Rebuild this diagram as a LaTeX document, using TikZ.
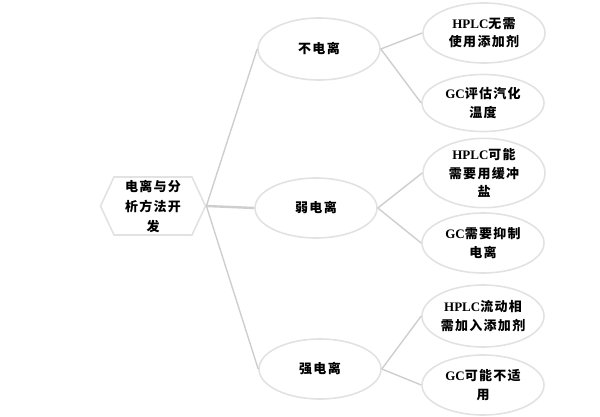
\documentclass[tikz,border=0pt]{standalone}
\usepackage{fontspec}
\setmainfont{Liberation Serif}
\newfontfamily\cjk[LetterSpace=10]{Noto Sans CJK SC}
\usetikzlibrary{shapes.geometric}
\usetikzlibrary{shapes.symbols}
\definecolor{rimgray}{RGB}{226,226,226}
\definecolor{linkgray}{RGB}{206,206,206}
\newcommand{\lat}[1]{{\rmfamily\bfseries #1}}
\newcommand{\widthbubble}{122pt}
\newcommand{\heightbubble}{60pt}
\tikzset{
    common/.style={align=center, text=black, font=\cjk\bfseries\fontsize{13}{18.5}\selectfont},
    hub/.style={common, draw=rimgray, line width=1.6pt, signal, signal to=west and east,
        signal pointer angle=130, minimum width=105pt, minimum height=58pt, inner sep=0pt},
    bubble/.style={common, draw=rimgray, line width=1.6pt, ellipse,
        minimum width=\widthbubble, minimum height=\heightbubble, inner sep=0pt},
    link/.style={draw=linkgray, line width=1.4pt},
}

\begin{document}
\begin{tikzpicture}[x=1pt, y=-1pt]
    \useasboundingbox (0,0) rectangle (600,417);

    \node[hub, font=\cjk\bfseries\fontsize{13}{20}\selectfont] (root) at (153,206) {电离与分\\析方法开\\发};

    \node[bubble, minimum height=62pt] (nonion) at (319,49) {不电离};
    \node[bubble] (weak) at (316,208) {弱电离};
    \node[bubble] (strong) at (320,369) {强电离};

    \node[bubble] (nonion-hplc) at (484,33) {\lat{HPLC}无需\\使用添加剂};
    \node[bubble, minimum height=57pt] (nonion-gc) at (483,103) {\lat{GC}评估汽化\\温度};
    \node[bubble] (weak-hplc) at (484,173) {\lat{HPLC}可能\\需要用缓冲\\盐};
    \node[bubble] (weak-gc) at (483,243) {\lat{GC}需要抑制\\电离};
    \node[bubble, minimum height=62pt] (strong-hplc) at (483,316) {\lat{HPLC}流动相\\需加入添加剂};
    \node[bubble] (strong-gc) at (483,385) {\lat{GC}可能不适\\用};

    % links
    \draw[link] (root.east) -- (nonion.west);
    \draw[link, line width=2.4pt] (root.east) -- (weak.west);
    \draw[link] (root.east) -- (strong.west);
    \draw[link] (nonion.east) -- (nonion-hplc.west);
    \draw[link] (nonion.east) -- (nonion-gc.west);
    \draw[link] (weak.east) -- (weak-hplc.west);
    \draw[link] (weak.east) -- (weak-gc.west);
    \draw[link] (strong.east) -- (strong-hplc.west);
    \draw[link] (strong.east) -- (strong-gc.west);
\end{tikzpicture}
\end{document}
